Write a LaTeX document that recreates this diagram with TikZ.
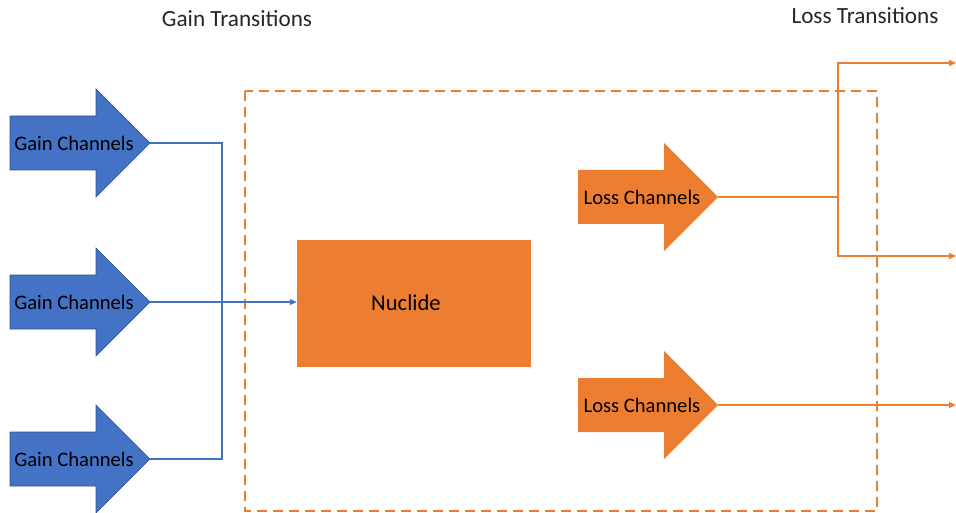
\documentclass[tikz,border=0pt]{standalone}
\usepackage{fontspec}
\setmainfont{Carlito}
\usetikzlibrary{arrows.meta}
\definecolor{gainblue}{HTML}{4472C4}
\definecolor{gainedge}{HTML}{2F528F}
\definecolor{lossorange}{HTML}{ED7D31}
\tikzset{
  gainshape/.style={fill=gainblue, draw=gainedge, line width=0.6pt},
  lossshape/.style={fill=lossorange},
  chanlabel/.style={inner sep=0pt, font=\fontsize{20.6}{24}\selectfont},
  title/.style={inner sep=0pt, font=\fontsize{23.2}{27}\selectfont, text=black!85},
  gainline/.style={draw=gainblue, line width=1.1pt},
  lossline/.style={draw=lossorange, line width=1.3pt},
  tip/.style={-{Triangle[length=7pt,width=6pt]}},
  boundary/.style={draw=lossorange, line width=2.4pt, dash pattern=on 10pt off 6pt},
  nucbox/.style={fill=lossorange, minimum width=234pt, minimum height=127pt, inner sep=0pt},
  nuclabel/.style={inner sep=0pt, font=\fontsize{22.6}{27}\selectfont}
}
% block arrow: #1 name, #2 left x, #3 centre y, #4 style, #5 label
\newcommand{\chanarrow}[5]{%
  \path[#4] (#2,#3-27) -- ++(86,0) -- ++(0,-27) -- (#2+140,#3) -- (#2+86,#3+54)
     -- ++(0,-27) -- (#2,#3+27) -- cycle;
  \node[chanlabel] (#1) at (#2+64,#3) {#5};
  \coordinate (#1-tip) at (#2+140,#3);
}
\begin{document}
\begin{tikzpicture}[x=1pt, y=-1pt]
\useasboundingbox (0,0) rectangle (956,513);

% titles
\node[title] (gaintitle) at (237,19) {Gain Transitions};
\node[title] (losstitle) at (865,16) {Loss Transitions};

% nuclide boundary
\draw[boundary] (245,91) rectangle (877,511);

% gain channels
\chanarrow{g1}{10}{143}{gainshape}{Gain Channels}
\chanarrow{g2}{10}{302}{gainshape}{Gain Channels}
\chanarrow{g3}{10}{459}{gainshape}{Gain Channels}

% nuclide
\node[nucbox] (nuc) at (414,303.5) {};
\node[nuclabel] (nucname) at (406,303) {Nuclide};

% loss channels
\chanarrow{l1}{578}{197}{lossshape}{Loss Channels}
\chanarrow{l2}{578}{405}{lossshape}{Loss Channels}

% gain connectors
\coordinate (gj) at (222,302);
\draw[gainline] (g1-tip) -| (gj);
\draw[gainline] (g3-tip) -| (gj);
\draw[gainline, tip] (g2-tip) -- (g2-tip -| nuc.west);

% loss connectors
\coordinate (lj) at (838,197);
\coordinate (out1) at (956,63);
\coordinate (out2) at (956,256);
\coordinate (out3) at (956,405);
\draw[lossline] (l1-tip) -- (lj);
\draw[lossline, tip] (lj) |- (out1);
\draw[lossline, tip] (lj) |- (out2);
\draw[lossline, tip] (l2-tip) -- (out3);
\end{tikzpicture}
\end{document}
